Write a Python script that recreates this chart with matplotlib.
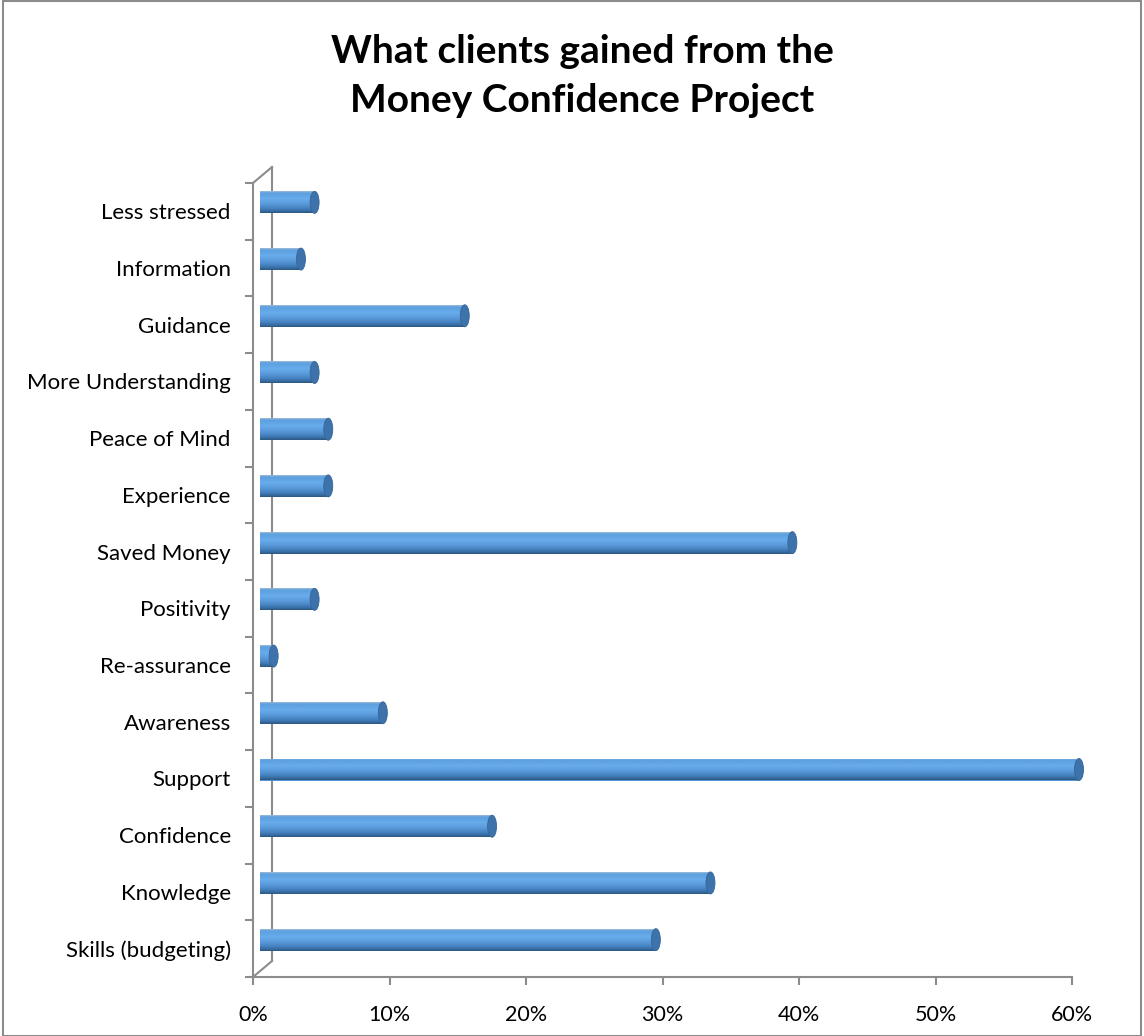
import matplotlib
matplotlib.use('Agg')
import matplotlib.pyplot as plt
import numpy as np
from matplotlib.colors import LinearSegmentedColormap
from matplotlib.patches import Ellipse, Rectangle
from matplotlib.transforms import ScaledTranslation

# Survey answers, bottom to top as they appear on the chart
categories = ['Skills (budgeting)', 'Knowledge', 'Confidence', 'Support',
              'Awareness', 'Re-assurance', 'Positivity', 'Saved Money',
              'Experience', 'Peace of Mind', 'More Understanding', 'Guidance',
              'Information', 'Less stressed']
values = [29, 33, 17, 60, 9, 1, 4, 39, 5, 5, 4, 15, 3, 4]
x_ticks = [0, 10, 20, 30, 40, 50, 60]
x_labels = ['0%', '10%', '20%', '30%', '40%', '50%', '60%']
title = 'What clients gained from the\nMoney Confidence Project'

plt.rcParams['font.family'] = ['Lato', 'DejaVu Sans']

W, H = 1144, 1036
fig = plt.figure(figsize=(W / 100, H / 100), dpi=100)
ax = fig.add_axes([253 / W, 59 / H, 819 / W, 794 / H])

grey = '#8c8c8c'
n = len(categories)
y = np.arange(n)

# cylinders sit half way into the 3d depth
dx = 7 * 60 / 819
dy = 9 * n / 794
bar_h = 22 * n / 794
cap_w = 9 * 60 / 819

shade = LinearSegmentedColormap.from_list('cyl', [
    (0.0, '#9dbbd8'), (0.08, '#5d9fdf'), (0.35, '#68acec'),
    (0.62, '#5797d7'), (0.85, '#3f79b5'), (1.0, '#2b5883')])
grad = np.linspace(0, 1, 64).reshape(-1, 1)

bars = ax.barh(y + dy, values, height=bar_h, left=dx, color='#5596d6',
               zorder=3, clip_on=False)
for bar, v in zip(bars, values):
    x0, y0 = bar.get_x(), bar.get_y()
    img = ax.imshow(grad, cmap=shade, aspect='auto', interpolation='bilinear',
                    extent=[x0, x0 + v, y0, y0 + bar_h], origin='upper', zorder=3)
    img.set_clip_path(bar)
    ax.add_patch(Ellipse((x0 + v, y0 + bar_h / 2), cap_w, bar_h, clip_on=False,
                         facecolor='#3d72aa', edgecolor='#35669a', lw=0.6, zorder=4))
ax.set_xlim(0, 60)
ax.set_ylim(-0.5, n - 0.5)

# back wall of the 3d frame
shift = ax.transAxes + ScaledTranslation(19 / 100, 16 / 100, fig.dpi_scale_trans)
ax.plot([0, 0], [0, 1], color=grey, lw=1.5, transform=shift, clip_on=False, zorder=1)
inv = ax.transAxes.inverted()
for yy in (0, 1):
    a = (0, yy)
    b = inv.transform(shift.transform((0, yy)))
    ax.plot([a[0], b[0]], [a[1], b[1]], color=grey, lw=1.5,
            transform=ax.transAxes, clip_on=False, zorder=1)

for side in ('top', 'right'):
    ax.spines[side].set_visible(False)
for side in ('left', 'bottom'):
    ax.spines[side].set_color(grey)
    ax.spines[side].set_linewidth(1.5)

ax.set_yticks(np.arange(-0.5, n, 1.0))
ax.set_yticklabels([])
ax.set_yticks(y, minor=True)
ax.set_yticklabels(categories, minor=True, fontsize=16)
ax.tick_params(axis='y', which='major', length=6, width=1.5, color=grey)
ax.tick_params(axis='y', which='minor', length=0, pad=16)

ax.set_xticks(x_ticks)
ax.set_xticklabels(x_labels, fontsize=15.5)
ax.tick_params(axis='x', length=6, width=1.5, color=grey, pad=14)

fig.text(582 / W, 1 - 76 / H, title, ha='center', va='center',
         fontsize=28, fontweight='bold', linespacing=1.5)

fig.patches.append(Rectangle((3 / W, 0), 1138 / W, 1035 / H, transform=fig.transFigure,
                             fill=False, edgecolor=grey, lw=1.5))

fig.savefig('out.png', dpi=100)
